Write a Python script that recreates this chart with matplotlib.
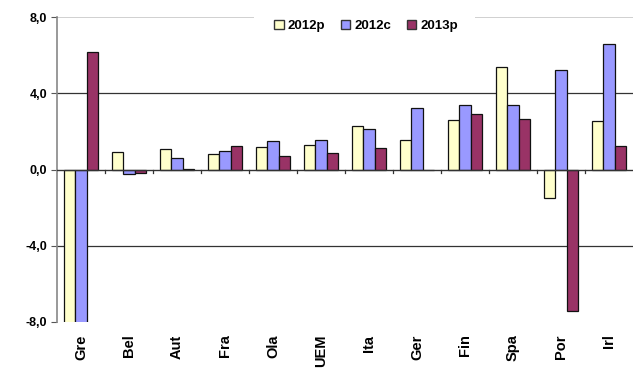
import matplotlib
matplotlib.use("Agg")
import matplotlib.pyplot as plt
import numpy as np
from matplotlib.patches import Patch, Rectangle

categories = ["Gre", "Bel", "Aut", "Fra", "Ola", "UEM", "Ita", "Ger", "Fin", "Spa", "Por", "Irl"]
s2012p = [-9.0, 0.9, 1.1, 0.82, 1.18, 1.28, 2.27, 1.57, 2.61, 5.39, -1.47, 2.56]
s2012c = [-9.0, -0.22, 0.62, 0.95, 1.52, 1.57, 2.15, 3.24, 3.40, 3.40, 5.23, 6.58]
s2013p = [6.15, -0.17, 0.05, 1.23, 0.69, 0.85, 1.11, -0.05, 2.92, 2.63, -7.4, 1.23]
series_names = ["2012p", "2012c", "2013p"]
colors = ["#FFFFCC", "#9999FF", "#993366"]
yticks = [-8, -4, 0, 4, 8]
ytick_labels = ["-8,0", "-4,0", "0,0", "4,0", "8,0"]

plt.rcParams['font.family'] = ['Liberation Sans', 'DejaVu Sans']

fig = plt.figure(figsize=(6.43, 3.79), dpi=100)
ax = fig.add_axes([57/643, 1-322/379, (633-57)/643, (322-17)/379])

n = len(categories)
x = np.arange(n)
w = 0.23
for k, (vals, c, name) in enumerate(zip([s2012p, s2012c, s2013p], colors, series_names)):
    ax.bar(x + (k-1)*w, vals, width=w, color=c, edgecolor="#111111", linewidth=0.9,
           label=name, zorder=3)

ax.set_xlim(-0.5, n-0.5)
ax.set_ylim(-8, 8)

# gridlines
ax.axhline(8, color="#c8c8c8", lw=1.2, zorder=1)
for g in [4, -4]:
    ax.axhline(g, color="#333333", lw=0.9, zorder=1)
ax.axhline(0, color="#333333", lw=1.0, zorder=4)

# category boundary ticks below zero line
for b in np.arange(0.5, n-0.5, 1.0):
    ax.plot([b, b], [0, -0.2], color="#333333", lw=0.9, zorder=4, clip_on=False)

for sp in ["top", "right", "bottom"]:
    ax.spines[sp].set_visible(False)
ax.spines["left"].set_color("#888888")
ax.spines["left"].set_linewidth(1.2)

ax.set_yticks(yticks)
ax.set_yticklabels(ytick_labels, fontsize=9, fontweight="bold")
ax.tick_params(axis="y", length=4, color="#555555", pad=3)

ax.set_xticks(x)
ax.set_xticklabels(categories, rotation=90, fontsize=10.5, fontweight="bold", va="top")
ax.tick_params(axis="x", length=0, pad=9)

# white legend background area covering the top gridline
fig.patches.append(Rectangle((254/643, 1-40/379), (475-254)/643, 30/379,
                             transform=fig.transFigure, facecolor="white",
                             edgecolor="none", zorder=2))

handles = [Patch(facecolor=c, edgecolor="#333333", label=nm) for c, nm in zip(colors, series_names)]
leg = fig.legend(handles=handles, loc="center", bbox_to_anchor=(366/643, 1-26/379),
                 ncol=3, frameon=False, prop={"weight": "bold", "size": 9.5},
                 handlelength=0.7, handleheight=0.7, handletextpad=0.3, columnspacing=1.2,
                 borderpad=0.2)
leg.set_zorder(6)

fig.savefig("out.png", dpi=100, facecolor="white")
